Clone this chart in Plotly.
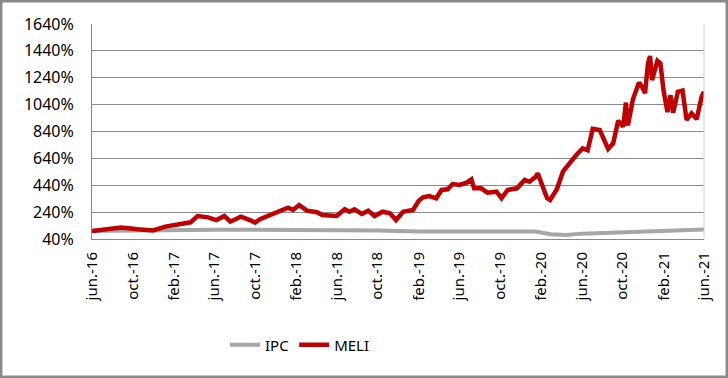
import plotly.graph_objects as go

meli_dates = ["2016-06-01", "2016-07-09", "2016-08-27", "2016-10-16", "2016-11-30", "2017-01-06",
              "2017-02-14", "2017-03-22", "2017-04-12", "2017-05-13", "2017-06-07", "2017-07-01",
              "2017-07-19", "2017-08-19", "2017-09-15", "2017-10-01", "2017-10-15", "2017-11-15",
              "2017-12-22", "2018-01-07", "2018-01-22", "2018-02-09", "2018-03-04", "2018-04-03",
              "2018-04-19", "2018-06-01", "2018-06-25", "2018-07-09", "2018-07-24", "2018-08-15",
              "2018-09-03", "2018-09-22", "2018-10-16", "2018-11-07", "2018-11-25", "2018-12-16",
              "2019-01-15", "2019-02-01", "2019-02-14", "2019-03-04", "2019-03-25", "2019-04-10",
              "2019-04-28", "2019-05-13", "2019-06-03", "2019-06-24", "2019-07-08", "2019-07-16",
              "2019-08-06", "2019-08-25", "2019-09-21", "2019-10-06", "2019-10-24", "2019-11-21",
              "2019-12-14", "2019-12-28", "2020-01-16", "2020-01-22", "2020-02-04", "2020-02-19",
              "2020-02-28", "2020-03-19", "2020-04-06", "2020-04-21", "2020-05-16", "2020-06-04",
              "2020-06-19", "2020-07-04", "2020-07-25", "2020-08-19", "2020-09-03", "2020-09-18",
              "2020-10-03", "2020-10-11", "2020-10-17", "2020-11-01", "2020-11-19", "2020-12-01",
              "2020-12-07", "2020-12-16", "2020-12-22", "2020-12-28", "2021-01-13", "2021-01-22",
              "2021-01-31", "2021-02-12", "2021-02-21", "2021-03-01", "2021-03-15", "2021-03-29",
              "2021-04-10", "2021-04-25", "2021-05-10", "2021-05-25", "2021-06-01"]
meli_values = [100, 114, 125, 112, 104, 132,
               149, 164, 211, 201, 181, 211,
               169, 206, 181, 161, 187, 219,
               256, 273, 256, 293, 251, 239,
               219, 211, 261, 243, 261, 226,
               251, 211, 243, 231, 181, 243,
               256, 325, 350, 360, 343, 405,
               410, 449, 442, 459, 484, 417,
               417, 385, 392, 343, 405, 417,
               479, 466, 504, 529, 442, 343,
               330, 410, 541, 591, 665, 715,
               700, 860, 851, 710, 752, 920,
               876, 1055, 885, 1080, 1205, 1161,
               1125, 1347, 1402, 1223, 1366, 1347,
               1149, 985, 1110, 980, 1136, 1145,
               926, 975, 932, 1099, 1136]

ipc_dates = ["2016-06-01", "2016-10-01", "2017-02-01", "2017-06-01", "2017-10-01", "2018-02-01",
             "2018-06-01", "2018-10-01", "2019-02-01", "2019-06-01", "2019-10-01", "2020-01-15",
             "2020-03-01", "2020-04-15", "2020-06-01", "2020-10-01", "2021-02-01", "2021-06-01"]
ipc_values = [100, 105, 108, 108, 108, 107,
              106, 104, 96, 94, 94, 95,
              75, 70, 80, 90, 100, 110]

tick_dates = ["2016-06-01", "2016-10-01", "2017-02-01", "2017-06-01", "2017-10-01", "2018-02-01",
              "2018-06-01", "2018-10-01", "2019-02-01", "2019-06-01", "2019-10-01", "2020-02-01",
              "2020-06-01", "2020-10-01", "2021-02-01", "2021-06-01"]
tick_labels = ["jun.-16", "oct.-16", "feb.-17", "jun.-17", "oct.-17", "feb.-18",
               "jun.-18", "oct.-18", "feb.-19", "jun.-19", "oct.-19", "feb.-20",
               "jun.-20", "oct.-20", "feb.-21", "jun.-21"]
y_ticks = [40, 240, 440, 640, 840, 1040, 1240, 1440, 1640]
y_labels = ["40%", "240%", "440%", "640%", "840%", "1040%", "1240%", "1440%", "1640%"]

FONT = "Noto Sans"

fig = go.Figure()
fig.add_trace(go.Scatter(x=ipc_dates, y=ipc_values, name="IPC", mode="lines",
                         line=dict(color="#A6A6A6", width=4)))
fig.add_trace(go.Scatter(x=meli_dates, y=meli_values, name="MELI", mode="lines",
                         line=dict(color="#C00000", width=4.5)))

L, R, T, B = 92, 24, 24, 139
W, H = 728, 378
pw, ph = W - L - R, H - T - B

fig.update_layout(
    width=W, height=H,
    margin=dict(l=L, r=R, t=T, b=B),
    paper_bgcolor="white", plot_bgcolor="white",
    font=dict(family=FONT, size=16, color="#000000"),
    showlegend=True,
    legend=dict(orientation="h", x=(300 - L) / pw, xanchor="center",
                y=(T + ph - 345) / ph, yanchor="middle",
                font=dict(size=15), itemwidth=30, tracegroupgap=0,
                bgcolor="rgba(0,0,0,0)"),
    xaxis=dict(range=["2016-06-01", "2021-06-01"], tickvals=tick_dates, ticktext=tick_labels,
               tickangle=-90, showgrid=False, showline=True, linecolor="#898989", linewidth=1,
               ticks="", tickfont=dict(size=15), ticklabelstandoff=6, zeroline=False),
    yaxis=dict(range=[40, 1640], tickvals=y_ticks, ticktext=y_labels, showgrid=True,
               gridcolor="#8C8C8C", gridwidth=1, showline=True, linecolor="#898989",
               linewidth=1, ticks="", tickfont=dict(size=16), ticklabelstandoff=14,
               zeroline=False),
    shapes=[
        dict(type="line", xref="paper", yref="paper", x0=1, x1=1, y0=0, y1=1,
             line=dict(color="#D0D0D0", width=1)),
        dict(type="rect", xref="paper", yref="paper",
             x0=(1.2 - L) / pw, x1=(W - 1.2 - L) / pw,
             y0=(T + ph - (H - 1.2)) / ph, y1=(T + ph - 1.2) / ph,
             line=dict(color="#8A8A8A", width=2.5), fillcolor="rgba(0,0,0,0)"),
    ],
)

fig.write_html("out.html")
